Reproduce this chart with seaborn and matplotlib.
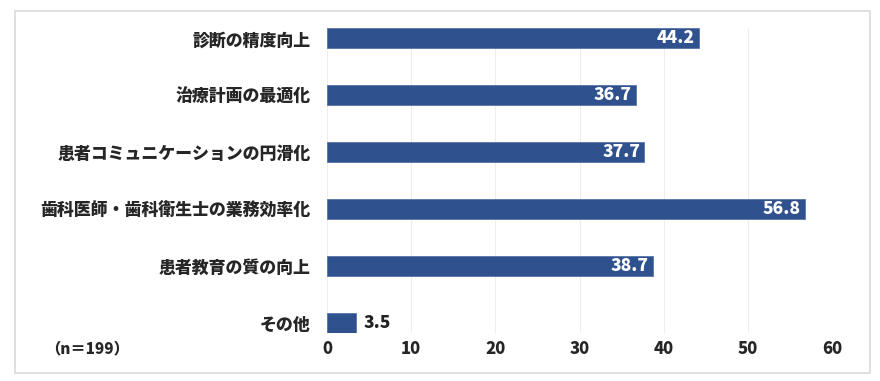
import matplotlib
matplotlib.use("Agg")
import matplotlib.pyplot as plt
import matplotlib.patches as patches
import seaborn as sns
import pandas as pd

# data
categories = ["診断の精度向上", "治療計画の最適化", "患者コミュニケーションの円滑化",
              "歯科医師・歯科衛生士の業務効率化", "患者教育の質の向上", "その他"]
values = [44.2, 36.7, 37.7, 56.8, 38.7, 3.5]
xticks = [0, 10, 20, 30, 40, 50, 60]
note = "（n＝199）"

df = pd.DataFrame({"item": categories, "pct": values})

sns.set_style("white")
plt.rcParams['font.family'] = ['Noto Sans CJK JP', 'DejaVu Sans']

fig = plt.figure(figsize=(8.8, 3.81), dpi=100)
ax = fig.add_axes([0.3716, 0.126, 0.9455 - 0.3716, 0.8005])

bar_col = "#2F528F"
sns.barplot(data=df, x="pct", y="item", color=bar_col, width=0.36,
            edgecolor="#4a6aa3", linewidth=0.5, saturation=1, ax=ax, zorder=3)

ax.set_xlim(0, 60)
ax.set_ylim(5.18, -0.18)
ax.set_xticks(xticks)
ax.set_xticklabels([str(t) for t in xticks], fontsize=12, fontweight="heavy")
for lbl in ax.get_yticklabels():
    lbl.set_fontsize(12.2)
    lbl.set_fontweight("heavy")
ax.tick_params(axis="y", length=0, pad=12)
ax.tick_params(axis="x", length=0, pad=5)
ax.set_xlabel("")
ax.set_ylabel("")
for s in ax.spines.values():
    s.set_visible(False)
ax.grid(axis="x", color="#eeeeee", linewidth=0.8, zorder=0)
ax.set_axisbelow(True)

# value labels
for i, v in enumerate(values):
    if v > 10:
        ax.text(v - 0.5, i, f"{v:.1f}", ha="right", va="center", color="white",
                fontsize=12.5, fontweight="heavy", zorder=4)
    else:
        ax.text(v + 0.8, i, f"{v:.1f}", ha="left", va="center", color="#222222",
                fontsize=12.5, fontweight="heavy", zorder=4)

fig.text(45 / 880, 1 - 349 / 381, note, ha="left", va="center",
         fontsize=11, fontweight="heavy")

# outer frame
fig.patches.append(patches.Rectangle((15 / 880, 8 / 381), 855 / 880, 362 / 381,
                                     transform=fig.transFigure, fill=False,
                                     edgecolor="#d9d9d9", linewidth=1.2))

plt.savefig("out.png", dpi=100)
